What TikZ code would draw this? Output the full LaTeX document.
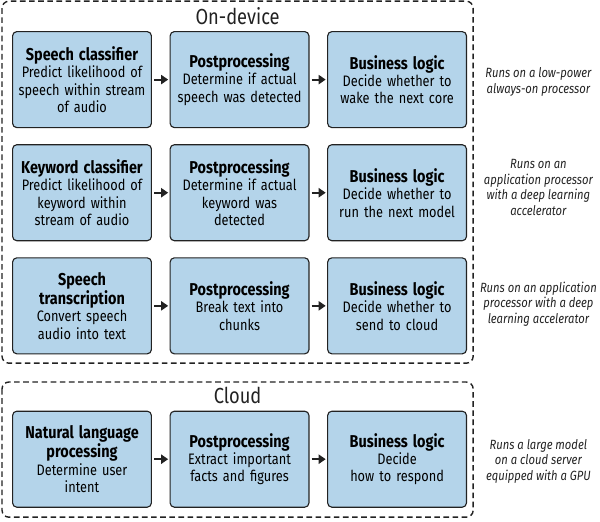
\documentclass[tikz,border=0pt]{standalone}
\usepackage{fontspec}
\setmainfont{Fira Sans}[FakeStretch=0.84]
\usepackage{xcolor}
\definecolor{StageBlue}{HTML}{B4D4EA}
\definecolor{InkGray}{HTML}{222222}
\usetikzlibrary{arrows.meta, positioning}
\tikzset{
  % Box styles
  stagebox/.style={rectangle, rounded corners=3pt, draw=InkGray, fill=StageBlue, line width=0.8pt, minimum width=3.45cm, minimum height=2.4cm, text width=3.4cm, align=center, inner sep=1pt, font=\fontsize{10.8}{12.4}\selectfont},
  grouplabel/.style={font=\fontsize{15.5}{17}\selectfont, text=InkGray},
  notetext/.style={font=\fontsize{9.5}{11.2}\selectfont\itshape, align=center, text=InkGray},
  groupframe/.style={draw=InkGray, line width=1pt, dash pattern=on 4pt off 2.5pt, rounded corners=5pt},
  % Arrow styles
  arrow/.style={-{Triangle[length=5pt,width=6.5pt]}, line width=1.5pt, InkGray, shorten >=1pt, shorten <=1.5pt}
}
\newcommand{\stagetitle}[1]{{\fontsize{12.2}{13.5}\selectfont\bfseries #1}}

\begin{document}
\begin{tikzpicture}
  \useasboundingbox (0,0) rectangle (15,-13.05);

  % On-device
  \draw[groupframe] (0.05,-0.03) rectangle (11.83,-9.08);
  \node[grouplabel] (ondevice) at (5.94,-0.40) {On-device};

  \node[stagebox] (speechcls) at (2.05,-1.99) {\stagetitle{Speech classifier}\\Predict likelihood of\\speech within stream\\of audio};
  \node[stagebox, right=0.44cm of speechcls] (speechpost) {\stagetitle{Postprocessing}\\Determine if actual\\speech was detected};
  \node[stagebox, right=0.44cm of speechpost] (speechlogic) {\stagetitle{Business logic}\\Decide whether to\\wake the next core};

  \node[stagebox, below=0.4cm of speechcls] (keywordcls) {\stagetitle{Keyword classifier}\\Predict likelihood of\\keyword within\\stream of audio};
  \node[stagebox, right=0.44cm of keywordcls] (keywordpost) {\stagetitle{Postprocessing}\\Determine if actual\\keyword was\\detected};
  \node[stagebox, right=0.44cm of keywordpost] (keywordlogic) {\stagetitle{Business logic}\\Decide whether to\\run the next model};

  \node[stagebox, below=0.4cm of keywordcls] (transcribe) {\stagetitle{Speech}\\\stagetitle{transcription}\\Convert speech\\audio into text};
  \node[stagebox, right=0.44cm of transcribe] (transpost) {\stagetitle{Postprocessing}\\Break text into\\chunks};
  \node[stagebox, right=0.44cm of transpost] (translogic) {\stagetitle{Business logic}\\Decide whether to\\send to cloud};

  % Cloud
  \draw[groupframe] (0.05,-9.55) rectangle (11.83,-12.93);
  \node[grouplabel] (cloud) at (5.94,-9.88) {Cloud};

  \node[stagebox] (nlp) at (2.05,-11.48) {\stagetitle{Natural language}\\\stagetitle{processing}\\Determine user\\intent};
  \node[stagebox, right=0.44cm of nlp] (nlppost) {\stagetitle{Postprocessing}\\Extract important\\facts and figures};
  \node[stagebox, right=0.44cm of nlppost] (nlplogic) {\stagetitle{Business logic}\\Decide\\how to respond};

  \foreach \a/\b in {speechcls/speechpost, speechpost/speechlogic, keywordcls/keywordpost, keywordpost/keywordlogic, transcribe/transpost, transpost/translogic, nlp/nlppost, nlppost/nlplogic} {
    \draw[arrow] (\a) -- (\b);
  }

  % Where each stage runs
  \node[notetext] (note1) at (13.46,-2.05) {Runs on a low-power\\always-on processor};
  \node[notetext] (note2) at (13.46,-4.69) {Runs on an\\application processor\\with a deep learning\\accelerator};
  \node[notetext] (note3) at (13.46,-7.60) {Runs on an application\\processor with a deep\\learning accelerator};
  \node[notetext] (note4) at (13.46,-11.53) {Runs a large model\\on a cloud server\\equipped with a GPU};
\end{tikzpicture}
\end{document}
